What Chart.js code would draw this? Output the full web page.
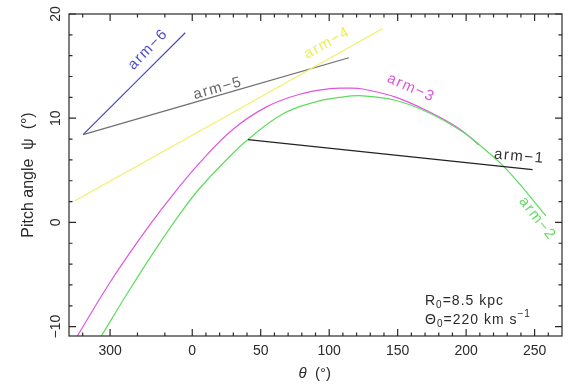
<!DOCTYPE html>
<html>
<head>
<meta charset="utf-8">
<script src="https://cdn.jsdelivr.net/npm/chart.js@4.4.1/dist/chart.umd.min.js"></script>
<style>
  html, body { margin: 0; padding: 0; background: #fff; }
</style>
</head>
<body>
<canvas id="chart" width="570" height="387"></canvas>
<script>
// theta in degrees, negative values are shown as 360 + theta on the axis
const arm1Theta = [40.7, 248.5];
const arm1Psi = [7.95, 5.07];

const arm2Theta = [-66.4, -46.2, -26.7, -7.4, 5.5, 25, 40.7, 66.3, 88.1, 107.6, 124.6, 148.9, 173.2, 197.4, 209.6, 230.2, 258.2];
const arm2Psi = [-10.9, -6.56, -2.56, 1.11, 3.28, 6.01, 7.96, 10.42, 11.5, 12.0, 12.15, 11.7, 10.5, 8.7, 7.45, 5.0, 0.64];

const arm3Theta = [-83.9, -60.8, -38.9, -17.1, 5.5, 29.8, 54.2, 78.4, 100.3, 113, 124.6, 148.9, 173.2, 195, 209.1];
const arm3Psi = [-10.9, -5.91, -1.68, 2.16, 5.73, 8.94, 11.09, 12.3, 12.83, 12.88, 12.8, 12.0, 10.6, 9.0, 7.45];

const arm4Theta = [-85.6, 139.1];
const arm4Psi = [2.07, 18.6];

const arm5Theta = [-79.7, 114.4];
const arm5Psi = [8.43, 15.8];

const arm6Theta = [-79.7, -5.1];
const arm6Psi = [8.43, 18.2];

const xMajorTicks = [-60, 0, 50, 100, 150, 200, 250];
const xMinorTicks = [-80, -40, -20, 10, 20, 30, 40, 60, 70, 80, 90, 110, 120, 130, 140, 160, 170, 180, 190, 210, 220, 230, 240, 260];
const yMajorTicks = [-10, 0, 10, 20];
const yMinorTicks = [-8, -6, -4, -2, 2, 4, 6, 8, 12, 14, 16, 18];

const FONT = '"Liberation Sans", Arial, sans-serif';
const INK = '#2a2a2a';

function points(thetas, psis) {
    return thetas.map((t, i) => ({x: t, y: psis[i]}));
}

function arm(label, thetas, psis, color) {
    return {
        label: label,
        data: points(thetas, psis),
        borderColor: color,
        borderWidth: 1.2,
        pointRadius: 0,
        fill: false,
        tension: 0.4
    };
}

// curve labels, placed in data units and turned along their line
const armLabels = [
    {text: 'arm\u22126', theta: -32.3, psi: 16.6, angle: -46, color: '#4f4fcc'},
    {text: 'arm\u22125', theta: 18.7, psi: 12.86, angle: -16, color: '#666666'},
    {text: 'arm\u22124', theta: 98.5, psi: 17.2, angle: -29, color: '#ecec5c'},
    {text: 'arm\u22123', theta: 159.8, psi: 12.9, angle: 24, color: '#dd55dd'},
    {text: 'arm\u22121', theta: 238.8, psi: 6.32, angle: 5, color: '#333333'},
    {text: 'arm\u22122', theta: 251.9, psi: 0.36, angle: 52, color: '#66dd66'}
];

function drawRich(ctx, parts, x, y) {
    let cx = x;
    parts.forEach(p => {
        ctx.font = (p.style || '') + ' ' + p.size + 'px ' + FONT;
        ctx.fillText(p.t, cx, y + (p.dy || 0));
        cx += ctx.measureText(p.t).width;
    });
}

const framePlugin = {
    id: 'framePlugin',
    afterDatasetsDraw(chart) {
        const {ctx, chartArea: a, scales: {x, y}} = chart;
        ctx.save();
        ctx.strokeStyle = INK;
        ctx.lineWidth = 1.2;
        ctx.strokeRect(a.left, a.top, a.right - a.left, a.bottom - a.top);

        ctx.beginPath();
        const xTick = (v, len) => {
            const px = x.getPixelForValue(v);
            ctx.moveTo(px, a.bottom); ctx.lineTo(px, a.bottom - len);
            ctx.moveTo(px, a.top); ctx.lineTo(px, a.top + len);
        };
        const yTick = (v, len) => {
            const py = y.getPixelForValue(v);
            ctx.moveTo(a.left, py); ctx.lineTo(a.left + len, py);
            ctx.moveTo(a.right, py); ctx.lineTo(a.right - len, py);
        };
        xMajorTicks.forEach(v => xTick(v, 7));
        xMinorTicks.forEach(v => xTick(v, 3.5));
        yMajorTicks.forEach(v => yTick(v, 7));
        yMinorTicks.forEach(v => yTick(v, 3.5));
        ctx.stroke();

        // arm labels
        armLabels.forEach(l => {
            ctx.save();
            ctx.translate(x.getPixelForValue(l.theta), y.getPixelForValue(l.psi));
            ctx.rotate(l.angle * Math.PI / 180);
            ctx.fillStyle = l.color;
            ctx.font = '15px ' + FONT;
            ctx.letterSpacing = '1.5px';
            ctx.textAlign = 'center';
            ctx.textBaseline = 'middle';
            ctx.fillText(l.text, 0, 0);
            ctx.restore();
        });

        // model constants, bottom right corner
        ctx.fillStyle = INK;
        ctx.textAlign = 'left';
        ctx.textBaseline = 'alphabetic';
        ctx.letterSpacing = '1px';
        const tx = a.right - 137;
        drawRich(ctx, [{t: 'R', size: 14}, {t: '0', size: 10, dy: 3}, {t: '=8.5 kpc', size: 14}], tx, a.bottom - 31);
        drawRich(ctx, [{t: '\u0398', size: 14}, {t: '0', size: 10, dy: 3}, {t: '=220 km s', size: 14}, {t: '\u22121', size: 10, dy: -7}], tx, a.bottom - 12);

        // x axis title with italic theta
        ctx.letterSpacing = '0px';
        ctx.textBaseline = 'middle';
        const midX = (a.left + a.right) / 2 - 17;
        drawRich(ctx, [{t: '\u03b8', size: 15, style: 'italic'}, {t: '  (\u00b0)', size: 15}], midX, 374);
        ctx.restore();
    }
};

new Chart(document.getElementById('chart'), {
    type: 'line',
    data: {
        datasets: [
            arm('arm-1', arm1Theta, arm1Psi, '#222222'),
            arm('arm-2', arm2Theta, arm2Psi, '#5ddc5d'),
            arm('arm-3', arm3Theta, arm3Psi, '#e055e0'),
            arm('arm-4', arm4Theta, arm4Psi, '#f0f068'),
            arm('arm-5', arm5Theta, arm5Psi, '#707070'),
            arm('arm-6', arm6Theta, arm6Psi, '#4545c8')
        ]
    },
    options: {
        responsive: false,
        animation: false,
        events: [],
        layout: {padding: {left: 0, top: 14, right: 8, bottom: 0}},
        plugins: {legend: {display: false}, tooltip: {enabled: false}},
        scales: {
            x: {
                type: 'linear',
                min: -90,
                max: 270,
                afterBuildTicks: s => { s.ticks = xMajorTicks.map(v => ({value: v})); },
                afterFit: s => { s.height = 51; },
                grid: {display: false, drawTicks: false},
                border: {display: false},
                ticks: {
                    autoSkip: false,
                    maxRotation: 0,
                    padding: 7,
                    color: INK,
                    font: {family: FONT, size: 14},
                    callback: v => String(v < 0 ? v + 360 : v)
                },
                title: {display: false}
            },
            y: {
                type: 'linear',
                min: -10.9,
                max: 20,
                afterBuildTicks: s => { s.ticks = yMajorTicks.map(v => ({value: v})); },
                afterFit: s => { s.width = 69; },
                grid: {display: false, drawTicks: false},
                border: {display: false},
                ticks: {
                    minRotation: 90,
                    maxRotation: 90,
                    crossAlign: 'center',
                    padding: 1,
                    color: INK,
                    font: {family: FONT, size: 14},
                    callback: v => v < 0 ? '\u2212' + Math.abs(v) : String(v)
                },
                title: {
                    display: true,
                    text: 'Pitch angle  \u03c8  (\u00b0)',
                    color: INK,
                    font: {family: FONT, size: 16},
                    padding: {top: 19}
                }
            }
        }
    },
    plugins: [framePlugin]
});
</script>
</body>
</html>
